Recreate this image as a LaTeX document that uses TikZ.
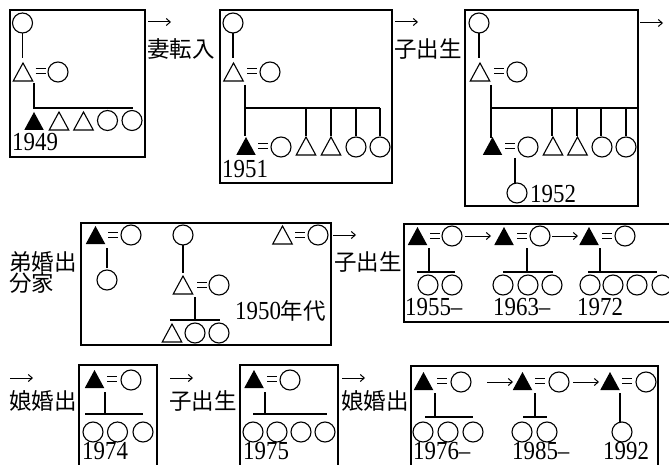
\documentclass[tikz,border=0pt]{standalone}
\usepackage{fontspec}
\setmainfont{Liberation Serif}
\newfontfamily\cjk{Noto Sans CJK JP}
\usetikzlibrary{arrows.meta}
\tikzset{
  sym/.style={line width=1.1pt},
  lnk/.style={line width=1.2pt},
  frame/.style={line width=1.3pt},
  arr/.style={line width=1pt,-{Straight Barb[length=4pt,width=7pt]}},
  yr/.style={inner sep=0pt,anchor=west,font=\fontsize{26}{26}\selectfont},
  kj/.style={inner sep=0pt,anchor=west,font=\cjk\fontsize{22.5}{22.5}\selectfont},
  fem/.pic={\draw[sym] (0,0) circle (10pt);},
  mal/.pic={\draw[sym,line join=miter] (-9.75,9) -- (9.75,9) -- (0,-9) -- cycle;},
  ego/.pic={\fill (-9.75,9) -- (9.75,9) -- (0,-9) -- cycle;},
  eqq/.pic={\draw[line width=0.9pt] (-5,-2.6)--(5,-2.6) (-5,2.6)--(5,2.6);},
}
\newcommand{\yrtext}[1]{\scalebox{0.88}[1]{#1}}
\begin{document}
\begin{tikzpicture}[x=1pt,y=-1pt]
\useasboundingbox (0,0) rectangle (669,465);
\fill[white] (0,0) rectangle (669,465);
\clip (0,0) rectangle (669,465);

% ---------- Box 1 ----------
\draw[frame] (10,10) rectangle (145,157);
\pic at (22.5,23) {fem};
\draw[lnk] (22.5,33) -- (22.5,58);
\pic at (23,72) {mal};
\pic at (40.5,71) {eqq};
\pic at (58,72) {fem};
\draw[lnk] (34,83) -- (34,108) -- (133,108);
\pic at (34,121) {ego};
\pic at (59,121) {mal};
\pic at (83.5,121) {mal};
\pic at (107.5,120.5) {fem};
\pic at (132,120.5) {fem};
\node[yr] (y1949) at (12,142.5) {\yrtext{1949}};

\draw[arr] (148,22) -- (171,22);
\node[kj] (t1) at (147,48.5) {妻転入};

% ---------- Box 2 ----------
\draw[frame] (220,10) rectangle (392,183);
\pic at (233,23) {fem};
\draw[lnk] (233,33) -- (233,58);
\pic at (233.5,72) {mal};
\pic at (252,71) {eqq};
\pic at (270,72) {fem};
\draw[lnk] (245,85) -- (245,136);
\draw[lnk] (245,108) -- (380,108);
\foreach \x in {306,331,356,380} \draw[lnk] (\x,108) -- (\x,136);
\pic at (246,146) {ego};
\pic at (263,146) {eqq};
\pic at (281,147) {fem};
\pic at (306,146) {mal};
\pic at (331,146) {mal};
\pic at (356,147) {fem};
\pic at (380,147) {fem};
\node[yr] (y1951) at (222,169) {\yrtext{1951}};

\draw[arr] (395,22) -- (418,22);
\node[kj] (t2) at (394,48.5) {子出生};

% ---------- Box 3 ----------
\draw[frame] (465,10) rectangle (638,206);
\pic at (479,23) {fem};
\draw[lnk] (479,33) -- (479,58);
\pic at (480,72) {mal};
\pic at (499,71) {eqq};
\pic at (517,72) {fem};
\draw[lnk] (491,85) -- (491,138);
\draw[lnk] (491,108) -- (638,108);
\foreach \x in {552,577,601,626} \draw[lnk] (\x,108) -- (\x,136);
\pic at (492.5,146) {ego};
\pic at (510,146) {eqq};
\pic at (528,147) {fem};
\pic at (553,146) {mal};
\pic at (577.5,146) {mal};
\pic at (602,147) {fem};
\pic at (626,147) {fem};
\draw[lnk] (515,158) -- (515,183);
\pic at (517,193) {fem};
\node[yr] (y1952) at (530,194) {\yrtext{1952}};

\draw[arr] (640,23) -- (663,23);

% ---------- Middle left text ----------
\node[kj] (t3) at (9,262) {弟婚出};
\node[kj] (t4) at (9,283) {分家};

% ---------- Box 4 ----------
\draw[frame] (81,223) rectangle (331,345);
\pic at (95.5,235) {ego};
\pic at (113,235) {eqq};
\pic at (131,235) {fem};
\draw[lnk] (107,248) -- (107,268);
\pic at (107,280) {fem};
\pic at (183,235) {fem};
\draw[lnk] (183,245) -- (183,273);
\pic at (183,285) {mal};
\pic at (202,285) {eqq};
\pic at (219,285) {fem};
\draw[lnk] (195,297) -- (195,320);
\draw[lnk] (170,320) -- (220,320);
\pic at (172,333) {mal};
\pic at (195,333) {fem};
\pic at (219,333) {fem};
\pic at (282.5,235) {mal};
\pic at (300,235) {eqq};
\pic at (318,235) {fem};
\node[yr] (y1950) at (235,311) {\yrtext{1950}{\cjk\fontsize{22.5}{22.5}\selectfont 年代}};

\draw[arr] (333,235) -- (356,235);
\node[kj] (t5) at (334,262) {子出生};

% ---------- Box 5 ----------
\draw[frame] (404,224) rectangle (690,322);
\pic at (417.5,236) {ego};
\pic at (435,236) {eqq};
\pic at (452,236) {fem};
\draw[arr] (465,236) -- (491,236);
\pic at (504,236) {ego};
\pic at (522,236) {eqq};
\pic at (540,236) {fem};
\draw[arr] (552,236) -- (578,236);
\pic at (589,236) {ego};
\pic at (607,236) {eqq};
\pic at (625,236) {fem};
\draw[lnk] (429,248) -- (429,272);
\draw[lnk] (417,272) -- (455,272);
\pic at (428,285) {fem};
\pic at (452,285) {fem};
\draw[lnk] (527,248) -- (527,272);
\draw[lnk] (503,272) -- (553,272);
\pic at (503,285) {fem};
\pic at (528,285) {fem};
\pic at (552,285) {fem};
\draw[lnk] (600,248) -- (600,272);
\draw[lnk] (588,272) -- (657,272);
\pic at (590,285) {fem};
\pic at (613,285) {fem};
\pic at (637,285) {fem};
\pic at (662,285) {fem};
\node[yr] (y1955) at (405,307.5) {\yrtext{1955–}};
\node[yr] (y1963) at (493,307.5) {\yrtext{1963–}};
\node[yr] (y1972) at (577,307.5) {\yrtext{1972}};

% ---------- Bottom row ----------
\draw[arr] (10,378) -- (33,378);
\node[kj] (t6) at (9,401) {娘婚出};

\draw[frame] (79,470) -- (79,365) -- (157,365) -- (157,470);
\pic at (94.5,379) {ego};
\pic at (112,379) {eqq};
\pic at (131,380) {fem};
\draw[lnk] (105,392) -- (105,414);
\draw[lnk] (85,414) -- (143,414);
\pic at (93,432) {fem};
\pic at (117.5,432) {fem};
\pic at (143,432) {fem};
\node[yr] (y1974) at (82,451) {\yrtext{1974}};

\draw[arr] (170,378) -- (193,378);
\node[kj] (t7) at (169,401) {子出生};

\draw[frame] (240,470) -- (240,365) -- (338,365) -- (338,470);
\pic at (254,379) {ego};
\pic at (272,379) {eqq};
\pic at (290,380) {fem};
\draw[lnk] (265,392) -- (265,414);
\draw[lnk] (253,414) -- (327,414);
\pic at (253,432) {fem};
\pic at (277,432) {fem};
\pic at (301,432) {fem};
\pic at (325,432) {fem};
\node[yr] (y1975) at (243,451) {\yrtext{1975}};

\draw[arr] (342,378) -- (365,378);
\node[kj] (t8) at (341,401) {娘婚出};

\draw[frame] (411,470) -- (411,366) -- (658,366) -- (658,470);
\pic at (423.5,381) {ego};
\pic at (442,381) {eqq};
\pic at (461,382) {fem};
\draw[arr] (487,382) -- (513,382);
\pic at (522.5,381) {ego};
\pic at (540,381) {eqq};
\pic at (559,382) {fem};
\draw[arr] (573,382) -- (599,382);
\pic at (610,381) {ego};
\pic at (627,381) {eqq};
\pic at (646,382) {fem};
\draw[lnk] (435,393) -- (435,417);
\draw[lnk] (425,417) -- (473,417);
\pic at (423,432) {fem};
\pic at (448,432) {fem};
\pic at (473,432) {fem};
\draw[lnk] (535,393) -- (535,417);
\draw[lnk] (523,417) -- (547,417);
\pic at (522,432) {fem};
\pic at (547,432) {fem};
\draw[lnk] (620,393) -- (620,422);
\pic at (622,432) {fem};
\node[yr] (y1976) at (413,451) {\yrtext{1976–}};
\node[yr] (y1985) at (512,451) {\yrtext{1985–}};
\node[yr] (y1992) at (603,451) {\yrtext{1992}};
\end{tikzpicture}
\end{document}
